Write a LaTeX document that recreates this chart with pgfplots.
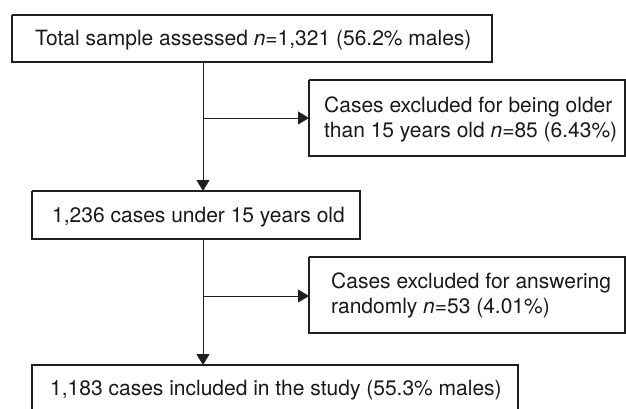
\documentclass[border=0pt]{standalone}
\usepackage{pgfplots}
\pgfplotsset{compat=1.18}
\usepackage{fontspec}
\setmainfont{TeX Gyre Heros}
\usetikzlibrary{arrows.meta}
\tikzset{
  lbl/.style={anchor=base west, inner sep=0pt, text=black!90, font=\fontsize{21bp}{25bp}\selectfont},
  bx/.style={line width=1.2bp, draw=black!88, mark=none, fill=none},
  ar/.style={line width=1bp, draw=black!88, fill=black!88, mark=none, -{Triangle[length=11bp,width=13bp]}},
}
\begin{document}
\begin{tikzpicture}
\begin{axis}[
  width=626bp, height=409bp, scale only axis,
  xmin=0, xmax=626, ymin=0, ymax=409, y dir=reverse,
  hide axis, clip=true,
]
\path (axis cs:0,0) rectangle (axis cs:626,409);
% boxes
\addplot[bx] coordinates {(12,15) (492,15) (492,62) (12,62) (12,15)};
\addplot[bx] coordinates {(309,80) (625,80) (625,156) (309,156) (309,80)};
\addplot[bx] coordinates {(32,191) (360,191) (360,239) (32,239) (32,191)};
\addplot[bx] coordinates {(309,257) (625,257) (625,333) (309,333) (309,257)};
\addplot[bx] coordinates {(32,420) (32,365) (518,365) (518,420)};
% connectors
\addplot[ar] coordinates {(203,62) (203,191)};
\addplot[ar] coordinates {(203,118) (309,118)};
\addplot[ar] coordinates {(203,239) (203,365)};
\addplot[ar] coordinates {(203,296) (309,296)};
% texts
\node[lbl] at (axis cs:35,45) {Total sample assessed \textit{n}=1,321 (56.2\% males)};
\node[lbl] at (axis cs:324,112) {Cases excluded for being older};
\node[lbl] at (axis cs:324,137) {than 15 years old \textit{n}=85 (6.43\%)};
\node[lbl] at (axis cs:52,222) {1,236 cases under 15 years old};
\node[lbl] at (axis cs:331,288) {Cases excluded for answering};
\node[lbl] at (axis cs:331,313) {randomly \textit{n}=53 (4.01\%)};
\node[lbl] at (axis cs:50,395) {1,183 cases included in the study (55.3\% males)};
\end{axis}
\end{tikzpicture}
\end{document}
